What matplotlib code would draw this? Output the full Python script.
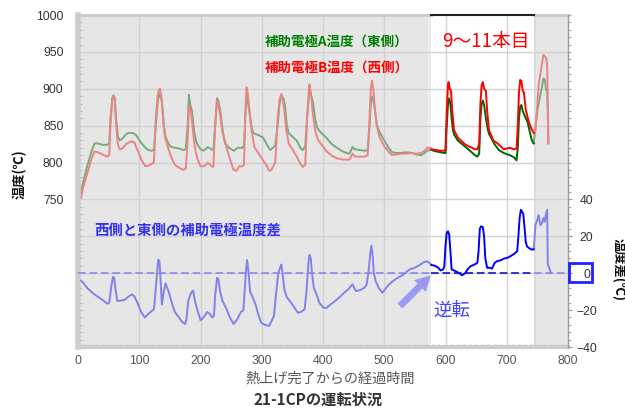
import matplotlib
matplotlib.use('Agg')
import matplotlib.pyplot as plt
import numpy as np
from matplotlib.patches import Rectangle

plt.rcParams['font.family'] = ['Liberation Sans', 'Noto Sans CJK JP']
JP = ['Noto Sans CJK JP', 'DejaVu Sans']

# ---------------- data ----------------
# East side electrode A temperature (deg C)
east_x = [5, 8, 15, 22, 27, 32, 40, 48, 51, 53,
          56, 58, 60, 62, 65, 68, 72, 78, 82, 90,
          95, 102, 110, 115, 120, 124, 127, 130, 132, 134,
          137, 140, 143, 150, 158, 165, 172, 176, 179, 181,
          183, 186, 190, 194, 200, 205, 212, 218, 221, 224,
          227, 229, 232, 236, 240, 247, 254, 261, 268, 271,
          273, 275, 277, 279, 283, 286, 295, 302, 310, 314,
          318, 322, 326, 329, 332, 335, 338, 341, 344, 350,
          357, 363, 367, 371, 374, 377, 379, 381, 384, 387,
          390, 395, 405, 413, 421, 430, 438, 443, 446, 448,
          452, 460, 468, 473, 476, 478, 480, 482, 485, 488,
          492, 500, 507, 513, 520, 528, 535, 545, 552, 560,
          566, 570, 575, 577, 585, 592, 597, 600, 602, 604,
          606, 608, 610, 612, 614, 620, 630, 640, 648, 652,
          655, 657, 659, 661, 663, 666, 669, 671, 680, 687,
          695, 705, 712, 716, 718, 720, 722, 724, 726, 728,
          731, 734, 738, 741, 744, 747, 750, 752, 755, 758,
          760, 762, 764, 766, 767, 768]
east_t = [762, 772, 795, 815, 826, 826, 824, 824, 826, 860,
          888, 891, 888, 860, 836, 830, 832, 838, 840, 840,
          837, 828, 820, 817, 816, 817, 850, 880, 893, 890,
          884, 850, 834, 822, 820, 819, 817, 818, 850, 892,
          880, 870, 840, 826, 818, 816, 821, 818, 817, 850,
          887, 884, 872, 845, 826, 820, 816, 820, 820, 822,
          860, 890, 886, 873, 850, 840, 837, 834, 822, 817,
          820, 823, 850, 880, 889, 888, 877, 850, 840, 835,
          830, 820, 817, 822, 860, 890, 897, 890, 880, 860,
          848, 842, 834, 826, 821, 816, 813, 812, 817, 821,
          818, 817, 816, 817, 850, 880, 889, 885, 870, 850,
          842, 830, 820, 814, 813, 813, 814, 813, 811, 810,
          813, 816, 817, 817, 815, 814, 813, 813, 850, 878,
          887, 880, 860, 845, 838, 830, 823, 816, 810, 808,
          812, 860, 880, 884, 878, 860, 845, 839, 825, 817,
          813, 810, 807, 803, 820, 860, 876, 878, 870, 866,
          860, 855, 840, 830, 826, 850, 870, 880, 892, 905,
          914, 912, 900, 894, 870, 826]

# West side electrode B temperature (deg C)
west_x = [5, 8, 15, 22, 27, 32, 40, 48, 51, 53,
          56, 58, 60, 62, 65, 68, 72, 80, 88, 92,
          98, 104, 110, 115, 120, 124, 127, 130, 132, 134,
          136, 139, 142, 147, 152, 158, 165, 172, 176, 179,
          181, 183, 185, 188, 191, 195, 200, 206, 212, 218,
          221, 224, 227, 229, 232, 236, 242, 248, 254, 259,
          263, 268, 271, 273, 275, 277, 280, 284, 288, 295,
          302, 308, 312, 316, 318, 322, 326, 329, 332, 334,
          337, 340, 344, 350, 356, 362, 367, 371, 374, 377,
          378, 380, 383, 387, 391, 397, 405, 413, 422, 432,
          443, 446, 448, 452, 460, 468, 473, 476, 478, 480,
          482, 485, 488, 492, 500, 507, 513, 520, 528, 535,
          545, 552, 560, 566, 570, 575, 577, 585, 592, 597,
          600, 602, 604, 605, 607, 609, 611, 614, 620, 625,
          633, 641, 648, 652, 655, 657, 659, 661, 663, 666,
          668, 671, 678, 685, 695, 705, 712, 716, 718, 720,
          722, 724, 726, 728, 731, 735, 739, 744, 747, 750,
          752, 754, 756, 758, 760, 762, 764, 765, 766, 767,
          768]
west_t = [752, 765, 785, 805, 815, 814, 811, 808, 810, 850,
          885, 890, 885, 855, 825, 818, 819, 826, 829, 827,
          815, 803, 795, 796, 798, 800, 860, 890, 898, 900,
          890, 860, 835, 820, 808, 797, 793, 790, 792, 830,
          870, 878, 865, 840, 820, 805, 795, 795, 800, 795,
          794, 850, 884, 880, 865, 840, 822, 805, 790, 789,
          795, 795, 797, 860, 902, 895, 870, 840, 821, 812,
          803, 796, 789, 790, 794, 800, 860, 885, 893, 887,
          870, 845, 826, 818, 810, 800, 794, 797, 860, 900,
          906, 895, 870, 845, 832, 825, 816, 810, 806, 804,
          804, 808, 812, 808, 808, 808, 810, 860, 900, 911,
          900, 870, 850, 835, 822, 815, 810, 811, 812, 812,
          813, 812, 813, 816, 820, 820, 818, 817, 816, 816,
          817, 870, 905, 909, 900, 897, 870, 844, 834, 830,
          824, 821, 818, 818, 825, 880, 905, 909, 900, 897,
          870, 844, 830, 826, 818, 820, 818, 819, 850, 895,
          912, 910, 898, 895, 872, 858, 848, 840, 843, 880,
          905, 915, 925, 937, 946, 944, 942, 939, 930, 880,
          826]

# West - East temperature difference (deg C)
diff_x = [5, 8, 15, 27, 38, 48, 51, 54, 57, 59,
          61, 64, 67, 76, 83, 88, 92, 97, 103, 109,
          115, 120, 124, 126, 129, 131, 133, 135, 137, 140,
          143, 148, 154, 158, 165, 170, 175, 177, 180, 183,
          186, 188, 191, 195, 200, 205, 211, 215, 219, 222,
          224, 227, 229, 232, 236, 242, 248, 254, 260, 266,
          270, 272, 274, 276, 278, 281, 285, 290, 295, 299,
          305, 312, 316, 320, 323, 327, 330, 332, 334, 337,
          341, 348, 354, 359, 364, 370, 373, 376, 378, 380,
          382, 385, 390, 394, 400, 405, 412, 420, 427, 435,
          442, 448, 451, 454, 460, 467, 471, 474, 477, 479,
          481, 483, 486, 491, 497, 503, 508, 514, 522, 530,
          541, 550, 558, 565, 570, 574, 577, 583, 588, 592,
          596, 598, 600, 602, 604, 606, 608, 610, 614, 620,
          627, 632, 637, 641, 646, 652, 654, 656, 658, 661,
          663, 665, 668, 672, 676, 680, 684, 690, 696, 702,
          706, 712, 717, 719, 721, 723, 725, 727, 729, 731,
          733, 737, 741, 744, 747, 750, 752, 755, 758, 760,
          762, 764, 766, 767, 772]
diff_v = [-4, -5, -8, -11.5, -14, -16.5, -16, -8, -2, -2.5,
          -8, -15, -15, -14.5, -12.5, -11.5, -12.5, -16, -21, -24,
          -22, -20.5, -19.5, -12, 0, 7.4, 6.5, -5, -17, -10,
          -5.5, -10, -17, -21, -24, -26.5, -27.5, -25, -15, -12,
          -10, -9.5, -15, -20, -25.5, -24, -21, -22, -24, -23,
          -12, -2.5, -3, -10, -15, -19, -24, -27.5, -25, -21,
          -20, -10, 0, 7, 2, -10, -13, -17, -23, -26.8,
          -28, -28.6, -26, -23, -12, 0, 3, 4.7, 0, -9,
          -13, -16, -19, -21.4, -21, -19.6, -10, 5, 10, 8,
          0, -8, -12, -16, -18.5, -19, -17, -15, -13, -10.5,
          -8.5, -6, -8, -9.7, -9.2, -8, -6.5, 0, 10, 15,
          10, 0, -4.3, -8, -10.6, -8, -6, -4.3, -2.5, -1,
          2, 3, 4.5, 6, 6.5, 5.5, 4.5, 4, 3, 1.5,
          2, 3.5, 15, 22, 22.7, 21, 12, 2, 1.5, 0.5,
          -1.1, 0, 2.5, 3.8, 4.5, 5.6, 12, 24, 25.4, 25,
          20, 8, 2.9, 3, 2.5, 5.5, 6.5, 7, 8, 8.5,
          9.2, 10.5, 11.9, 20, 30, 34.4, 33.5, 32, 25, 17,
          14.6, 13.5, 12.8, 13, 26.3, 29, 31.5, 26, 27.5, 30,
          28, 32, 34.4, 5, 0.2]

# highlighted period (9th-11th run)
hl_start, hl_end = 577, 744

temp_ticks = [750, 800, 850, 900, 950, 1000]
diff_ticks = [-40, -20, 0, 20, 40]
x_ticks = [0, 100, 200, 300, 400, 500, 600, 700, 800]

# ---------------- figure ----------------
W, H = 625, 408
fig = plt.figure(figsize=(W / 100, H / 100), dpi=100)


def fx(px):
    return px / W


def fy(py):
    return 1 - py / H


ax = fig.add_axes([fx(78), fy(347), 490 / W, 332 / H])
ax.set_xlim(0, 800)
ax.set_ylim(550, 1000)
ax.set_facecolor('white')
ax2 = ax.twinx()
ax2.set_ylim(-40, 140)

# background regions
ax.axvspan(0, hl_start, color='#e6e6e6', lw=0, zorder=0)
ax.axvspan(hl_end, 800, color='#e6e6e6', lw=0, zorder=0)
ax.axvspan(hl_start - 6, hl_start, color='#ececec', lw=0, zorder=0.2)
ax.axvspan(hl_end, hl_end + 4, color='#dadada', lw=0, zorder=0.2)

# grid
for xv in x_ticks[1:-1]:
    ax.axvline(xv, color='#d2d2d2', lw=1, zorder=0.5)
for yv in [650, 700, 750, 800, 850, 900, 950]:
    ax.axhline(yv, color='#d2d2d2', lw=1, zorder=0.5)


def split(xs, ys):
    xs = np.asarray(xs, float)
    ys = np.asarray(ys, float)
    m1 = xs <= hl_start
    m2 = (xs >= hl_start) & (xs <= hl_end)
    m3 = xs >= hl_end
    return (xs[m1], ys[m1]), (xs[m2], ys[m2]), (xs[m3], ys[m3])


LW = 1.4
faded = {'g': '#7aab7a', 'r': '#ea8585', 'b': '#8282ec'}
strong = {'g': '#006400', 'r': '#ff0000', 'b': '#0000ff'}

for (xs, ys, k) in [(east_x, east_t, 'g'), (west_x, west_t, 'r')]:
    s1, s2, s3 = split(xs, ys)
    ax.plot(*s1, color=faded[k], lw=LW, zorder=2)
    ax.plot(*s3, color=faded[k], lw=LW, zorder=2)
    ax.plot(*s2, color=strong[k], lw=LW, zorder=2)

# zero reference (dashed)
dash = (0, (5, 2.5))
ax2.plot([0, hl_start], [0, 0], color=faded['b'], lw=1.1, ls=dash, zorder=1)
ax2.plot([hl_start, hl_end], [0, 0], color='#0000c0', lw=1.1, ls=dash, zorder=1)
ax2.plot([hl_end, 800], [0, 0], color=faded['b'], lw=1.1, ls=dash, zorder=1)

s1, s2, s3 = split(diff_x, diff_v)
ax2.plot(*s1, color=faded['b'], lw=LW, zorder=2)
ax2.plot(*s3, color=faded['b'], lw=LW, zorder=2)
ax2.plot(*s2, color=strong['b'], lw=LW, zorder=2)

# arrow "逆転"
ax2.annotate('', xy=(576, -1.1), xytext=(525.7, -17.8),
             arrowprops=dict(arrowstyle='simple,head_length=1.1,head_width=1.2,tail_width=0.5',
                             color='#9a9af0', lw=0, mutation_scale=10,
                             shrinkA=0, shrinkB=0), zorder=3)

# top border
ax.plot([0, hl_start], [1000, 1000], color='#c8c8c8', lw=2, clip_on=False, zorder=5)
ax.plot([hl_end, 800], [1000, 1000], color='#c8c8c8', lw=2, clip_on=False, zorder=5)
ax.plot([hl_start, hl_end], [1000, 1000], color='#222222', lw=1.5, clip_on=False, zorder=5)

# spines
for s in ['top', 'right']:
    ax.spines[s].set_visible(False)
for s in ['top', 'left', 'bottom']:
    ax2.spines[s].set_visible(False)
ax.spines['left'].set_color('#cdcdcd')
ax.spines['left'].set_linewidth(4)
ax.spines['bottom'].set_color('#cdcdcd')
ax.spines['bottom'].set_linewidth(3)
ax2.spines['right'].set_color('#999999')
ax2.spines['right'].set_linewidth(1)

# ticks
ax.set_yticks(temp_ticks)
ax.set_yticklabels([str(t) for t in temp_ticks])
ax.set_yticks(np.arange(550, 1001, 10), minor=True)
ax.tick_params(axis='y', which='major', length=0, labelsize=8.7,
               labelcolor='#333333', pad=10.5)
ax.tick_params(axis='y', which='minor', direction='in', length=3,
               color='#b5b5b5', width=0.8)
ax.set_xticks(x_ticks)
ax.set_xticklabels([str(t) for t in x_ticks])
ax.set_xticks(np.arange(0, 801, 10), minor=True)
ax.tick_params(axis='x', which='major', length=0, labelsize=8.7,
               labelcolor='#555555', pad=6)
ax.tick_params(axis='x', which='minor', direction='in', length=2,
               color='#b5b5b5', width=0.8)

ax2.set_yticks(diff_ticks)
ax2.set_yticklabels(['\u221240', '\u221220', '0', '20', '40'])
ax2.set_yticks(np.arange(-40, 141, 4), minor=True)
ax2.tick_params(axis='y', which='major', direction='out', length=3,
                color='#999999', labelsize=8.7, labelcolor='#333333', pad=10.5)
ax2.tick_params(axis='y', which='minor', direction='out', length=2,
                color='#aaaaaa', width=0.8)
for lab in ax2.get_yticklabels():
    lab.set_horizontalalignment('center')

# box around the 0 label
fig.patches.append(Rectangle((fx(569), fy(282)), 23 / W, 19 / H,
                             transform=fig.transFigure, fill=False,
                             edgecolor='#2222ff', lw=2, zorder=10))

# texts
fig.text(fx(337), fy(42), '補助電極A温度（東側）', color='#008000', fontsize=9.7,
         fontweight='bold', ha='center', va='center', family=JP)
fig.text(fx(337), fy(68), '補助電極B温度（西側）', color='#ff0000', fontsize=9.7,
         fontweight='bold', ha='center', va='center', family=JP)
fig.text(fx(486), fy(42), '9～11本目', color='#ff0000', fontsize=13.5,
         ha='center', va='center', family=JP)
fig.text(fx(188), fy(231), '西側と東側の補助電極温度差', color='#3333ee', fontsize=10.4,
         fontweight='bold', ha='center', va='center', family=JP)
fig.text(fx(452), fy(311), '逆転', color='#4444ff', fontsize=13.3,
         ha='center', va='center', family=JP)
fig.text(fx(330), fy(379), '熱上げ完了からの経過時間', color='#555555', fontsize=10.2,
         ha='center', va='center', family=JP)
fig.text(fx(318), fy(400), '21-1CPの運転状況', color='#333333', fontsize=11,
         fontweight='bold', ha='center', va='center', family=JP)
fig.text(fx(20), fy(174), '温度(℃)', color='#111111', fontsize=9.5,
         fontweight='bold', rotation=90, ha='center', va='center', family=JP)
fig.text(fx(619), fy(270), '温度差(℃)', color='#111111', fontsize=9.5,
         fontweight='bold', rotation=270, ha='center', va='center', family=JP)

fig.savefig('out.png', dpi=100)
